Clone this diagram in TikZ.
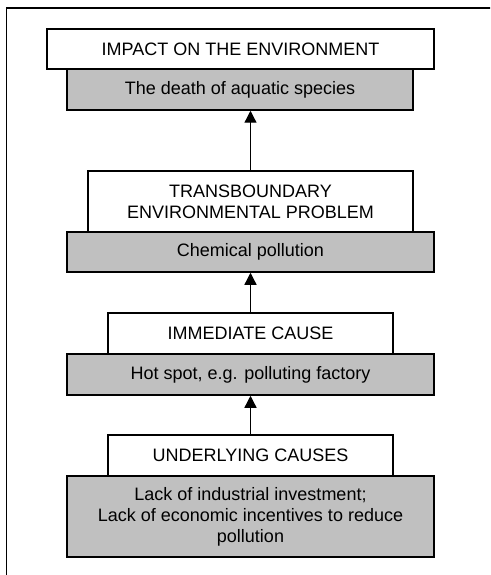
\documentclass[tikz,border=0pt]{standalone}
\usepackage{fontspec}
\setmainfont{Liberation Sans}
\usetikzlibrary{arrows.meta}
\definecolor{boxgray}{RGB}{192,192,192}
\begin{document}
\begin{tikzpicture}[x=1pt,y=-1pt,
  box/.style={draw=black,line width=1.5pt,inner sep=0pt,align=center,
    font=\fontsize{18}{21}\selectfont},
  headbox/.style={box,fill=white},
  graybox/.style={box,fill=boxgray},
  link/.style={line width=1.3pt,-{Triangle[width=12pt,length=12pt]}}]
\useasboundingbox (0,0) rectangle (490,575);
\clip (0,0) rectangle (490,575);
% outer frame, running off the page at right and bottom
\draw[line width=1.5pt] (6.5,8) rectangle (520,600);

% gray boxes first so the white headers sit on top
\node[graybox,minimum width=346pt,minimum height=41pt] (death) at (240,89.5) {The death of aquatic species};
\node[headbox,minimum width=387pt,minimum height=40pt] (impact) at (240.5,49) {IMPACT ON THE ENVIRONMENT};

\node[graybox,minimum width=367pt,minimum height=40pt] (chem) at (250.5,252) {Chemical pollution};
\node[headbox,minimum width=325pt,minimum height=61pt] (trans) at (250.5,201.5) {TRANSBOUNDARY\\ENVIRONMENTAL PROBLEM};

\node[graybox,minimum width=367pt,minimum height=41pt] (hot) at (250.5,374.5) {Hot spot, e.g. polluting factory};
\node[headbox,minimum width=285pt,minimum height=41pt] (imm) at (250.5,333.5) {IMMEDIATE CAUSE};

\node[graybox,minimum width=367pt,minimum height=81pt] (lack) at (250.5,516.5) {Lack of industrial investment;\\Lack of economic incentives to reduce\\pollution};
\node[headbox,minimum width=285pt,minimum height=41pt] (under) at (250.5,455.5) {UNDERLYING CAUSES};

% causal links
\draw[link] (trans.north) -- (trans.north |- death.south);
\draw[link] (imm.north) -- (chem.south);
\draw[link] (under.north) -- (hot.south);
\end{tikzpicture}
\end{document}
